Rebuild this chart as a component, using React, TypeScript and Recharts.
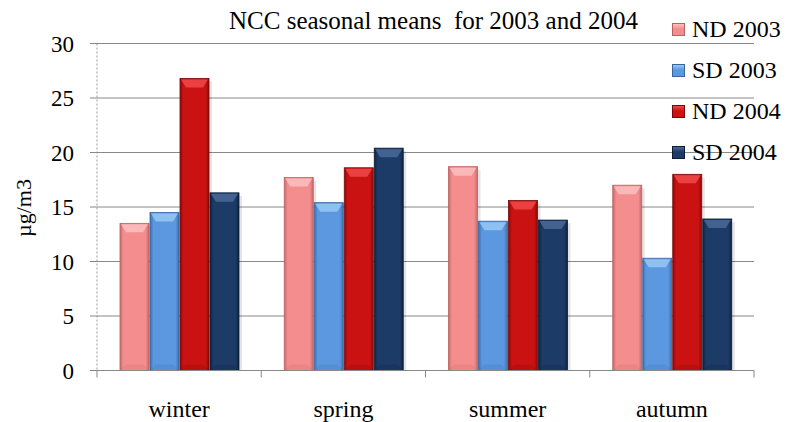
import React from 'react';
import { BarChart, Bar, XAxis, YAxis, CartesianGrid, Legend } from 'recharts';

// Seasonal mean NCC concentrations (µg/m3)
const categories = ['winter', 'spring', 'summer', 'autumn'];
const nd2003 = [13.5, 17.7, 18.7, 17.0];
const sd2003 = [14.5, 15.4, 13.7, 10.3];
const nd2004 = [26.8, 18.6, 15.6, 18.0];
const sd2004 = [16.3, 20.4, 13.8, 13.9];
const yTicks = [0, 5, 10, 15, 20, 25, 30];

const seriesNames = ['ND 2003', 'SD 2003', 'ND 2004', 'SD 2004'];

const data = categories.map((season, i) => ({
  season,
  'ND 2003': nd2003[i],
  'SD 2003': sd2003[i],
  'ND 2004': nd2004[i],
  'SD 2004': sd2004[i],
}));

const FONT = 'Liberation Serif, Tinos, Times New Roman, Times, DejaVu Serif, Noto Serif, serif';

type Palette = { base: string; edge: string; light: string; line: string };
const palettes: Record<string, Palette> = {
  'ND 2003': { base: '#F48E8E', edge: '#C86A6A', light: '#FAC0BF', line: '#B86060' },
  'SD 2003': { base: '#5C98DF', edge: '#3D6FAE', light: '#96C8F4', line: '#3A64A0' },
  'ND 2004': { base: '#CA1212', edge: '#8C0909', light: '#EE4A4A', line: '#7A0808' },
  'SD 2004': { base: '#1D3B67', edge: '#0F223F', light: '#4A6A96', line: '#0C1C36' },
};

const gradId = (name: string) => 'g-' + name.replace(/\s/g, '');

const Gradient = ({ name }: { name: string }) => {
  const p = palettes[name];
  return (
    <linearGradient id={gradId(name)} x1="0" y1="0" x2="1" y2="0">
      <stop offset="0%" stopColor={p.edge} />
      <stop offset="12%" stopColor={p.base} />
      <stop offset="88%" stopColor={p.base} />
      <stop offset="100%" stopColor={p.edge} />
    </linearGradient>
  );
};

// Bevelled bar with a soft shadow on the right
const makeShape = (name: string) => (props: any) => {
  const { x, y, width, height } = props;
  if (!height || height <= 0) return <g />;
  const p = palettes[name];
  const bev = Math.min(9, height / 2);
  const inset = 6;
  return (
    <g>
      <defs>
        <Gradient name={name} />
      </defs>
      <rect x={x + 3} y={y + 3} width={width} height={height - 3} fill="rgba(0,0,0,0.10)" />
      <rect x={x} y={y} width={width} height={height} fill={`url(#${gradId(name)})`} stroke={p.line} strokeWidth={0.8} />
      <polygon
        points={`${x + 1},${y + 1} ${x + width - 1},${y + 1} ${x + width - inset},${y + bev} ${x + inset},${y + bev}`}
        fill={p.light}
        opacity={0.85}
      />
      <polygon
        points={`${x + 1},${y + height - 1} ${x + width - 1},${y + height - 1} ${x + width - inset},${y + height - 6} ${x + inset},${y + height - 6}`}
        fill={p.edge}
        opacity={0.25}
      />
    </g>
  );
};

const XTick = (props: any) => {
  const { x, y, payload, index } = props;
  const half = payload && payload.offset ? payload.offset : 0;
  return (
    <g>
      <line x1={x - half} x2={x - half} y1={y} y2={y + 7} stroke="#888" />
      {index === categories.length - 1 && (
        <line x1={x + half} x2={x + half} y1={y} y2={y + 7} stroke="#888" />
      )}
      <text x={x} y={y + 46} textAnchor="middle" fontSize={24} fontFamily={FONT} fill="#000">
        {payload.value}
      </text>
    </g>
  );
};

// Legend rows follow the series order
const LegendContent = () => (
  <div style={{ fontFamily: FONT, fontSize: 24, color: '#000' }}>
    {seriesNames.map((name) => {
      const p = palettes[name];
      return (
        <div key={name} style={{ display: 'flex', alignItems: 'center', height: 41, lineHeight: '41px' }}>
          <span
            style={{
              display: 'inline-block',
              width: 13,
              height: 13,
              marginRight: 7,
              background: `linear-gradient(180deg, ${p.light} 0%, ${p.base} 45%, ${p.base} 100%)`,
              border: `1px solid ${p.line}`,
              boxSizing: 'border-box',
            }}
          />
          <span>{name}</span>
        </div>
      );
    })}
  </div>
);

const YLabel = () => (
  <text
    x={23}
    y={208}
    transform="rotate(-90 23 208)"
    textAnchor="middle"
    dominantBaseline="central"
    fontSize={22}
    fontFamily={FONT}
    fill="#000"
  >
    µg/m3
  </text>
);

export default function App() {
  return (
    <div style={{ position: 'absolute', left: 0, top: 0, width: 786, height: 422, background: '#fff' }}>
      <div
        style={{
          position: 'absolute',
          left: 229,
          top: 8,
          fontFamily: FONT,
          fontSize: 25,
          lineHeight: '25px',
          whiteSpace: 'pre',
          color: '#000',
          zIndex: 2,
        }}
      >
        {'NCC seasonal means  for 2003 and 2004'}
      </div>
      <BarChart
        width={786}
        height={422}
        data={data}
        margin={{ top: 43.5, right: 32, bottom: 0, left: 0 }}
        barCategoryGap="14%"
        barGap={1}
      >
        <CartesianGrid vertical={false} stroke="#888" />
        <XAxis
          dataKey="season"
          height={51.5}
          axisLine={{ stroke: '#888' }}
          tickLine={false}
          tickSize={0}
          tickMargin={0}
          tick={<XTick />}
          interval={0}
        />
        <YAxis
          width={97}
          domain={[0, 30]}
          ticks={yTicks}
          interval={0}
          axisLine={{ stroke: '#999', strokeDasharray: '2 2' }}
          tickLine={{ stroke: '#888' }}
          tickSize={7}
          tickMargin={16}
          tick={{ fontSize: 23, fill: '#000', fontFamily: FONT }}
          label={{ content: () => <YLabel /> }}
        />
        <Legend
          layout="vertical"
          align="center"
          verticalAlign="middle"
          content={<LegendContent />}
          wrapperStyle={{ left: 672, top: 9, width: 114, height: 170 }}
        />
        {seriesNames.map((name) => (
          <Bar
            key={name}
            dataKey={name}
            fill={palettes[name].base}
            shape={makeShape(name)}
            isAnimationActive={false}
          />
        ))}
      </BarChart>
    </div>
  );
}
